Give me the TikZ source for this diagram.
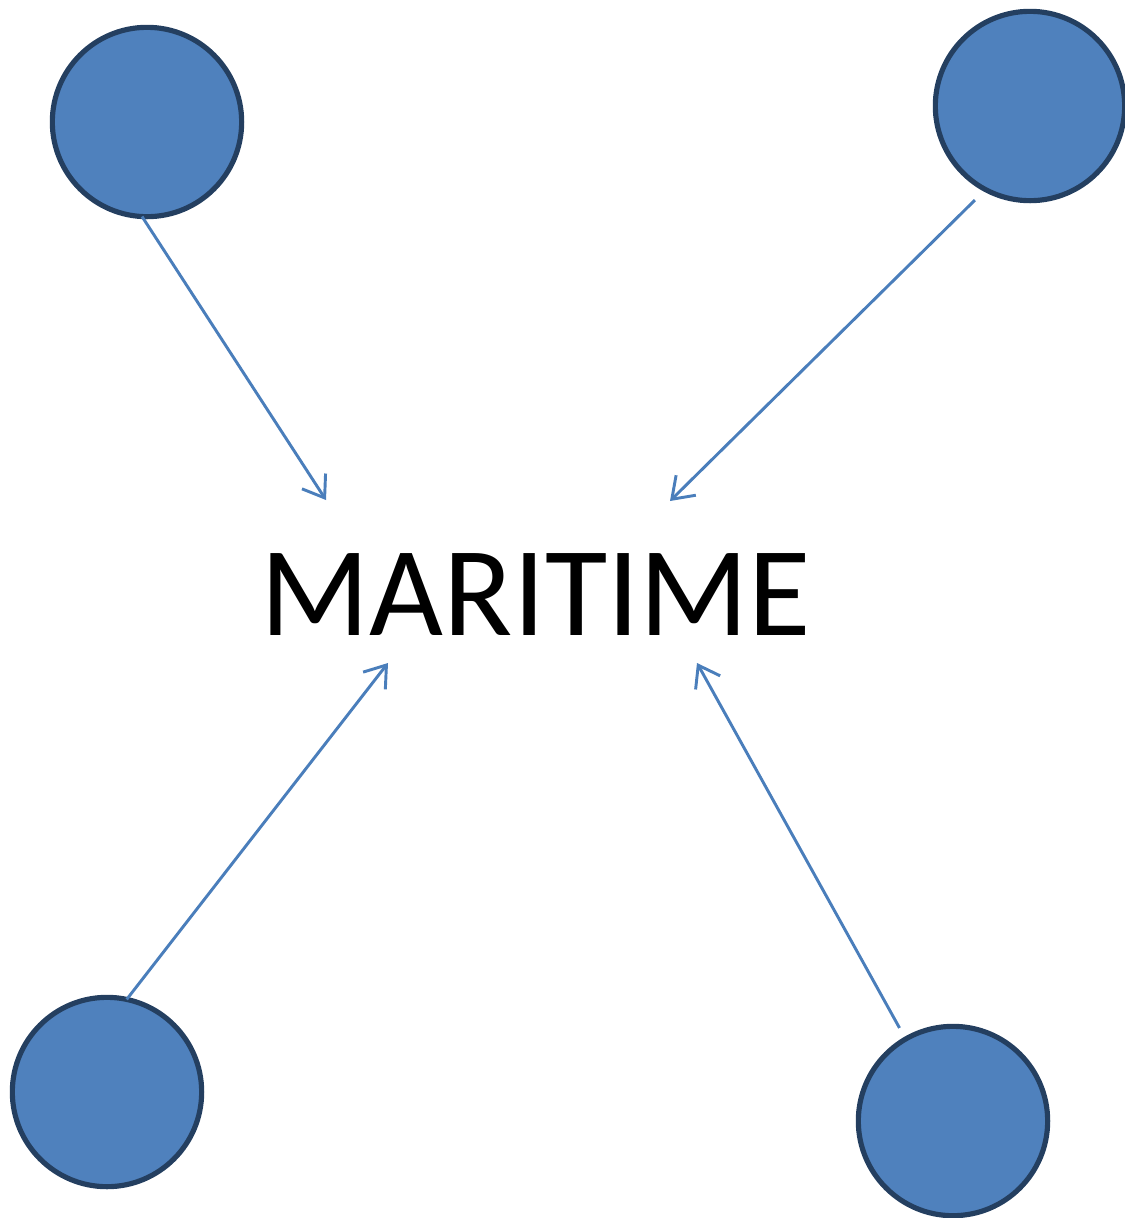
\documentclass[tikz,border=0pt]{standalone}
\usepackage{fontspec}
\setmainfont{Carlito}
\usetikzlibrary{arrows.meta}
\definecolor{ballfill}{HTML}{4F81BD}
\definecolor{balledge}{HTML}{243F60}
\definecolor{linkcol}{HTML}{4A7EBB}
\begin{document}
\begin{tikzpicture}[x=0.03cm,y=-0.03cm,
  ball/.style={circle,draw=balledge,fill=ballfill,line width=4.4pt,minimum size=5.68cm,inner sep=0pt,outer sep=0pt},
  link/.style={draw=linkcol,line width=2.5pt,-{Straight Barb[length=17pt,width=24pt,line width=2.5pt]}}]
\useasboundingbox (0,0) rectangle (1125,1218);
\node[ball] (c1) at (147,122) {};
\node[ball] (c2) at (1030,106) {};
\node[ball] (c3) at (107,1092) {};
\node[ball] (c4) at (953,1121) {};
\node[font=\fontsize{109}{120}\selectfont,inner sep=0pt] (t) at (536,595) {MARITIME};
\coordinate (e1) at (326,500);
\coordinate (e2) at (670,501);
\coordinate (e3) at (388,663);
\coordinate (e4) at (697,663);
\draw[link] (c1.-93) -- (e1);
\draw[link,shorten <=0.45cm] (c2.-118) -- (e2);
\draw[link] (c3.78) -- (e3);
\draw[link,shorten <=0.38cm] (c4.120.5) -- (e4);
\end{tikzpicture}
\end{document}
